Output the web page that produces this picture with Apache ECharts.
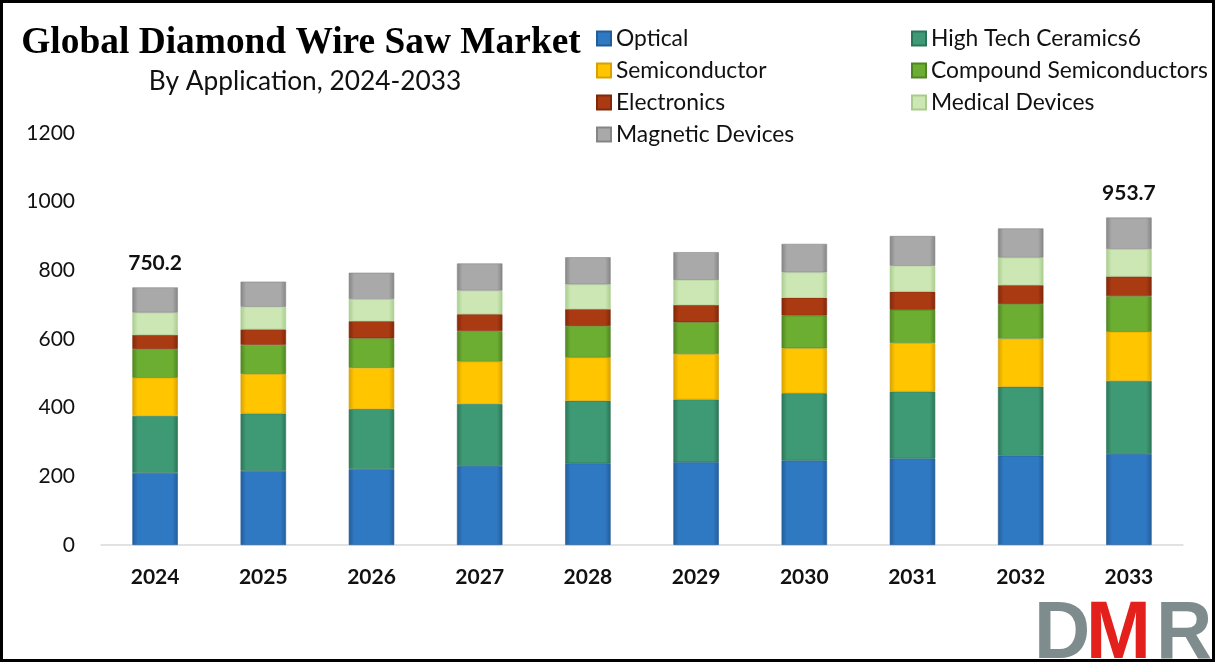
<!DOCTYPE html>
<html>
<head>
<meta charset="utf-8">
<script src="https://cdn.jsdelivr.net/npm/echarts@6/dist/echarts.min.js"></script>
<style>
  html, body { margin: 0; padding: 0; background: #ffffff; }
  #chart { width: 1216px; height: 663px; }
</style>
</head>
<body>
<div id="chart"></div>
<script>
// ---- Data ----
const years = ['2024', '2025', '2026', '2027', '2028', '2029', '2030', '2031', '2032', '2033'];
const optical     = [210, 216, 221, 230, 238, 241, 246, 252, 260, 265];
const highTech    = [166, 167, 175, 181, 182, 183, 196, 195, 201, 213];
const semicond    = [111, 115, 120, 123, 126, 132, 131, 141, 140, 143];
const compound    = [84, 85, 86, 89, 92, 93, 95, 97, 101, 104];
const electronics = [41, 45, 50, 49, 49, 50, 52, 53, 55, 57];
const medical     = [65, 66, 64, 69, 72, 73, 74, 75, 80, 80];
const magnetic    = [73.2, 73, 77, 79, 79, 81, 83, 87, 85, 91.7];
const labeledYears = ['2024', '2033'];
const yTicks = [0, 200, 400, 600, 800, 1000, 1200];

const seriesDefs = [
  { name: 'Optical', data: optical, color: '#2f78c2', dark: '#235d98' },
  { name: 'High Tech Ceramics6', data: highTech, color: '#3e9a75', dark: '#2c7457' },
  { name: 'Semiconductor', data: semicond, color: '#ffc600', dark: '#d9a100' },
  { name: 'Compound Semiconductors', data: compound, color: '#6cae31', dark: '#508523' },
  { name: 'Electronics', data: electronics, color: '#aa3a12', dark: '#80280a' },
  { name: 'Medical Devices', data: medical, color: '#cce7b4', dark: '#a9cc8e' },
  { name: 'Magnetic Devices', data: magnetic, color: '#a9a9a9', dark: '#858585' }
];

const totals = years.map((_, i) => seriesDefs.reduce((s, d) => s + d.data[i], 0));

function grad(c, d) {
  return new echarts.graphic.LinearGradient(0, 0, 1, 0, [
    { offset: 0, color: d },
    { offset: 0.12, color: c },
    { offset: 0.88, color: c },
    { offset: 1, color: d }
  ]);
}

const font = 'Lato, "Open Sans", sans-serif';

const series = seriesDefs.map((d, idx) => {
  const s = {
    name: d.name,
    type: 'bar',
    stack: 'total',
    barWidth: '42%',
    data: d.data,
    itemStyle: { color: grad(d.color, d.dark), borderColor: d.dark, borderWidth: 0.6 },
    emphasis: { disabled: true }
  };
  if (idx === seriesDefs.length - 1) {
    s.label = {
      show: true,
      position: 'top',
      distance: 14,
      fontFamily: font,
      fontWeight: 'bold',
      fontSize: 21,
      color: '#111',
      formatter: p => labeledYears.indexOf(years[p.dataIndex]) >= 0 ? totals[p.dataIndex].toFixed(1) : ''
    };
  }
  return s;
});

const legendIcon = (name) => {
  const d = seriesDefs.find(x => x.name === name);
  return { name: name, itemStyle: { color: grad(d.color, d.dark) } };
};

const legendText = { fontFamily: font, fontSize: 22.8, color: '#111', lineHeight: 20 };

const chart = echarts.init(document.getElementById('chart'), null, { renderer: 'canvas' });
chart.setOption({
  backgroundColor: '#ffffff',
  animation: false,
  color: seriesDefs.map(d => d.color),
  title: [
    {
      text: 'Global Diamond Wire Saw Market',
      left: 296, top: 20, textAlign: 'center',
      textStyle: { fontFamily: '"Liberation Serif", "DejaVu Serif", serif', fontWeight: 'bold', fontSize: 37.4, color: '#000' }
    },
    {
      text: 'By Application, 2024-2033',
      left: 300, top: 64, textAlign: 'center',
      textStyle: { fontFamily: font, fontWeight: 'normal', fontSize: 26.3, color: '#111' }
    }
  ],
  legend: [
    {
      orient: 'vertical', left: 591, top: 22,
      itemWidth: 14, itemHeight: 14, itemGap: 9, icon: 'rect',
      textStyle: legendText,
      data: ['Optical', 'Semiconductor', 'Electronics', 'Magnetic Devices'].map(legendIcon)
    },
    {
      orient: 'vertical', left: 906, top: 22,
      itemWidth: 14, itemHeight: 14, itemGap: 9, icon: 'rect',
      textStyle: legendText,
      data: ['High Tech Ceramics6', 'Compound Semiconductors', 'Medical Devices'].map(legendIcon)
    }
  ],
  grid: { left: 101, right: 33, top: 133, bottom: 118, containLabel: false },
  xAxis: {
    type: 'category',
    data: years,
    axisLine: { show: true, lineStyle: { color: '#d9d9d9', width: 1.5 } },
    axisTick: { show: false },
    axisLabel: { margin: 22, fontFamily: font, fontWeight: 'bold', fontSize: 21, color: '#111' }
  },
  yAxis: {
    type: 'value',
    min: yTicks[0], max: yTicks[yTicks.length - 1], interval: yTicks[1] - yTicks[0],
    axisLine: { show: false },
    axisTick: { show: false },
    splitLine: { show: false },
    axisLabel: { margin: 26, fontFamily: font, fontSize: 21, color: '#111', formatter: v => String(v) }
  },
  series: series,
  graphic: [
    {
      type: 'rect', silent: true, z: 100,
      shape: { x: 1.5, y: 1.5, width: 1212, height: 659 },
      style: { fill: 'none', stroke: '#000', lineWidth: 3 }
    },
    {
      type: 'group', left: 1034, top: 594, z: 90,
      children: [
        { type: 'text', x: 0, y: 0, style: { text: 'D', fill: '#7f8c8d', font: 'bold 82px "Liberation Sans", sans-serif' }, scaleX: 0.95 },
        { type: 'text', x: 52, y: 0, style: { text: 'M', fill: '#e3201b', font: 'bold 82px "Liberation Sans", sans-serif' }, scaleX: 0.95 },
        { type: 'text', x: 122, y: 0, style: { text: 'R', fill: '#7f8c8d', font: 'bold 82px "Liberation Sans", sans-serif' }, scaleX: 0.95 }
      ]
    }
  ]
});
</script>
</body>
</html>
